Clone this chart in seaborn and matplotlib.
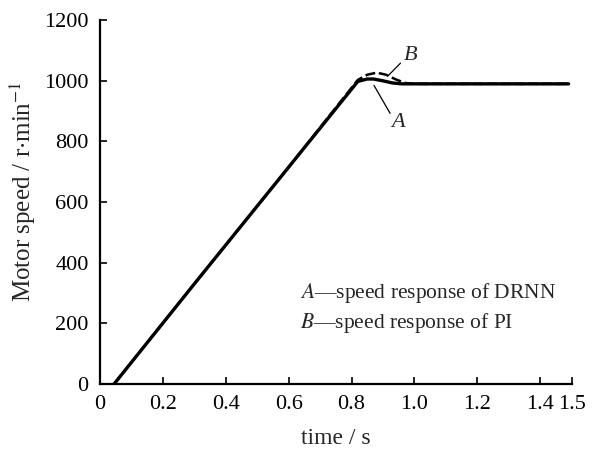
import matplotlib
matplotlib.use("Agg")
import matplotlib.pyplot as plt
import seaborn as sns
import pandas as pd

# speed response
time_a = [0.045, 0.30, 0.60, 0.82, 0.85, 0.87, 0.90, 0.93, 0.96, 1.00, 1.20, 1.49]
speed_a = [0, 330, 715, 998, 1006, 1006, 1000, 993, 990, 990, 990, 990]
time_b = [0.045, 0.30, 0.60, 0.82, 0.85, 0.88, 0.91, 0.94, 0.97, 1.00, 1.20, 1.49]
speed_b = [0, 330, 715, 1003, 1020, 1027, 1020, 1005, 993, 990, 990, 990]

x_ticks = [0, 0.2, 0.4, 0.6, 0.8, 1.0, 1.2, 1.4, 1.5]
x_labels = ["0", "0.2", "0.4", "0.6", "0.8", "1.0", "1.2", "1.4", "1.5"]
y_ticks = [0, 200, 400, 600, 800, 1000, 1200]

sns.set_style("ticks")
plt.rcParams["font.family"] = ["Liberation Serif", "DejaVu Serif"]
plt.rcParams["mathtext.fontset"] = "stix"

df_a = pd.DataFrame({"time": time_a, "speed": speed_a})
df_b = pd.DataFrame({"time": time_b, "speed": speed_b})

fig = plt.figure(figsize=(6.05, 4.69), dpi=100)
ax = fig.add_axes([0.165, 0.181, 0.78, 0.776])

sns.lineplot(data=df_b, x="time", y="speed", ax=ax, color="black",
             linewidth=1.8, linestyle=(0, (4, 1.5)))
sns.lineplot(data=df_a, x="time", y="speed", ax=ax, color="black",
             linewidth=2.4)

ax.set_xlim(0, 1.5)
ax.set_ylim(0, 1200)
ax.set_xticks(x_ticks)
ax.set_xticklabels(x_labels)
ax.set_yticks(y_ticks)
ax.tick_params(direction="in", length=5, width=1.2, labelsize=16, colors="black")
ax.tick_params(axis="x", pad=8)
ax.tick_params(axis="y", pad=8)
for s in ["left", "bottom"]:
    ax.spines[s].set_linewidth(1.6)
    ax.spines[s].set_color("black")
sns.despine(ax=ax)

ax.set_xlabel("time / s", fontsize=17, labelpad=10)
ax.set_ylabel(r"Motor speed / r$\cdot$min$^{-1}$", fontsize=18)
ax.yaxis.set_label_coords(-0.132, 0.53)

# curve labels with leader lines
ax.annotate("", xy=(0.91, 1010), xytext=(0.962, 1065),
            arrowprops=dict(arrowstyle="-", color="black", lw=0.9))
ax.text(0.965, 1085, "B", fontsize=16, style="italic", ha="left", va="center")
ax.annotate("", xy=(0.867, 993), xytext=(0.927, 885),
            arrowprops=dict(arrowstyle="-", color="black", lw=0.9))
ax.text(0.925, 862, "A", fontsize=16, style="italic", ha="left", va="center")

ax.text(0.635, 300, r"$\it{A}$—speed response of DRNN", fontsize=15.5, va="center")
ax.text(0.635, 202, r"$\it{B}$—speed response of PI", fontsize=15.5, va="center")

plt.savefig("out.png", dpi=100)
